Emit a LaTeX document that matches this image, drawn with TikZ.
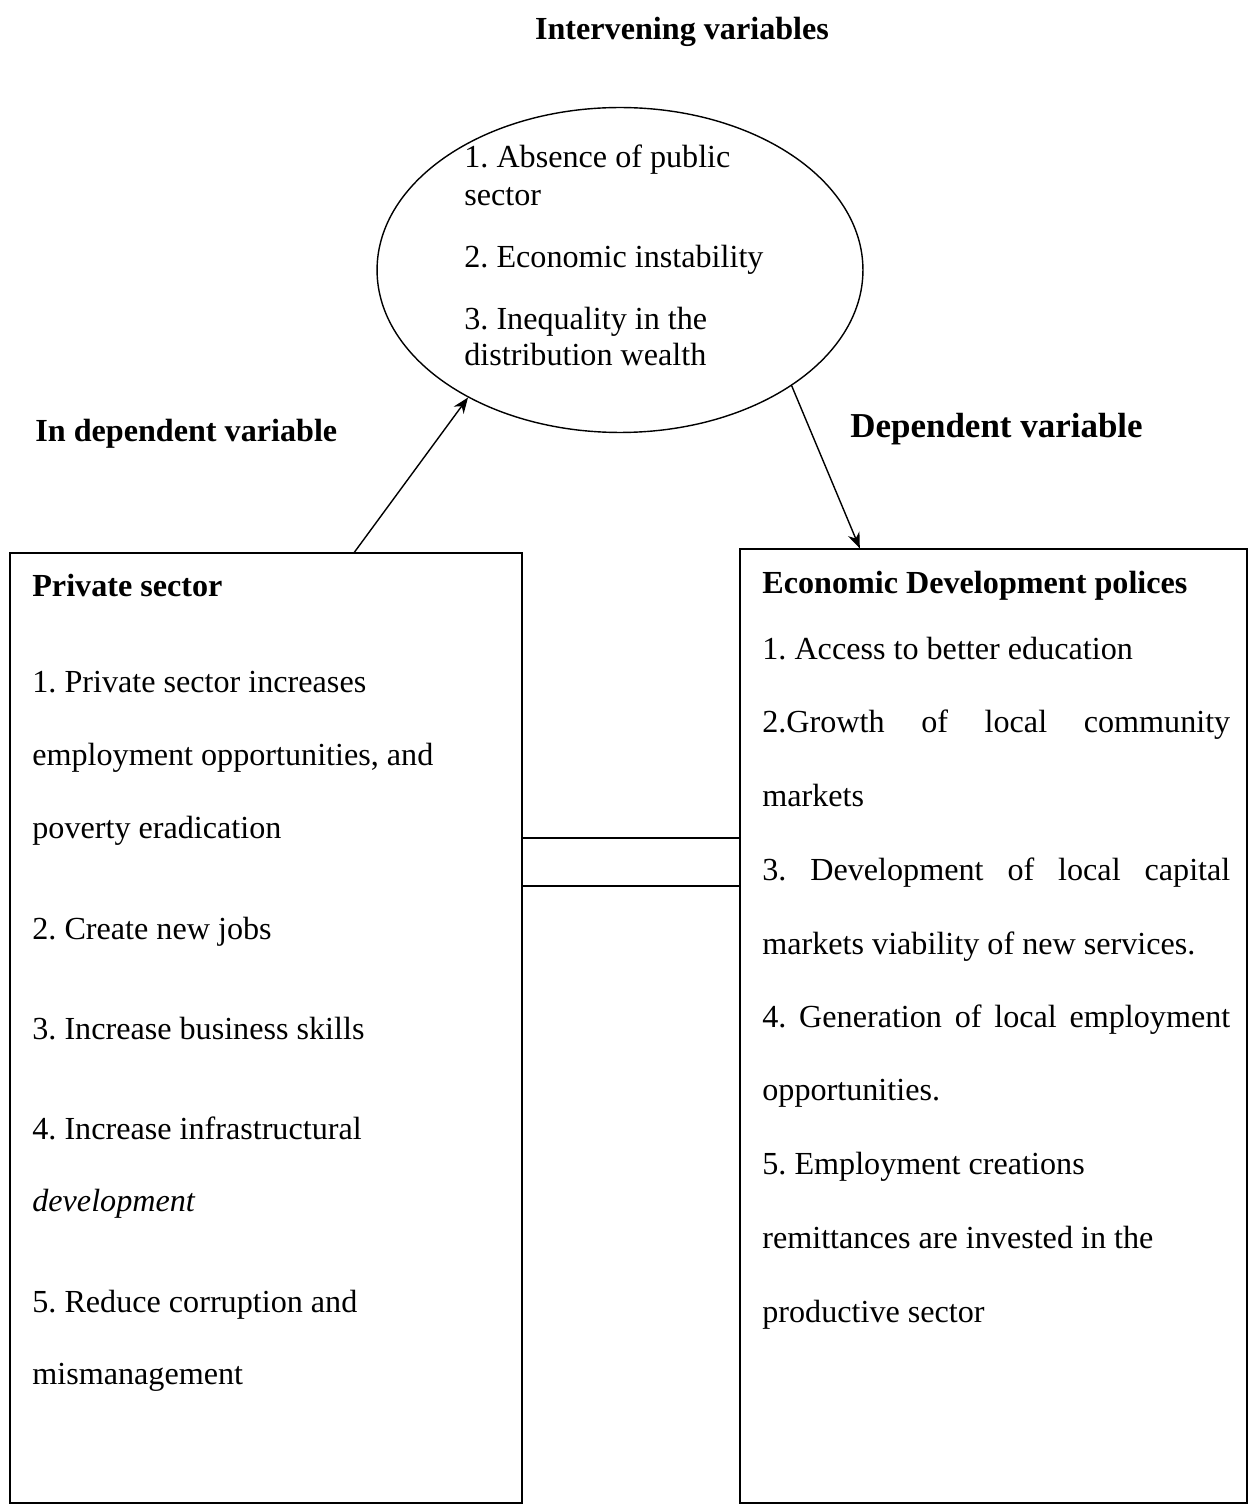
\documentclass[tikz,border=0pt]{standalone}
\usepackage{fontspec}
\setmainfont{Liberation Serif}
\usetikzlibrary{shapes.geometric,calc,arrows.meta}
\frenchspacing

\begin{document}
\begin{tikzpicture}[x=0.02cm,y=-0.02cm,
		txt/.style={anchor=base west,inner sep=0pt,font=\fontsize{18.3}{22}\selectfont},
		head/.style={txt,font=\fontsize{18.3}{22}\selectfont\bfseries},
		box/.style={draw,rectangle,inner sep=0pt,thick},
		link/.style={-{Stealth[length=9pt,width=7pt]},thick}]
		\useasboundingbox (0,0) rectangle (1248,1506);
		\node[draw,ellipse,thick,minimum width=9.72cm,minimum height=6.5cm,inner sep=0pt] (intervening) at (620,270) {};
		\node[box,minimum width=10.24cm,minimum height=19cm] (private) at (266,1028) {};
		\node[box,minimum width=10.14cm,minimum height=19.08cm] (policies) at (993.5,1026) {};
		\node[head,anchor=base] (ttop) at (682,40) {Intervening variables};
		\node[head] (tleft) at (35,442) {In dependent variable};
		\node[head,font=\fontsize{19.9}{24}\selectfont\bfseries] (tright) at (850,438) {Dependent variable};
		\node[txt] (e1) at (464,168) {1. Absence of public};
		\node[txt] (e2) at (464,206) {sector};
		\node[txt] (e3) at (464,268) {2. Economic instability};
		\node[txt] (e4) at (464,330) {3. Inequality in the};
		\node[txt] (e5) at (464,366) {distribution wealth};
		\node[head] (l0) at (32,596) {Private sector};
		\node[txt] (l1) at (32,692) {1. Private sector increases};
		\node[txt] (l2) at (32,765) {employment opportunities, and};
		\node[txt] (l3) at (32,838) {poverty eradication};
		\node[txt] (l4) at (32,939) {2. Create new jobs};
		\node[txt] (l5) at (32,1039) {3. Increase business skills};
		\node[txt] (l6) at (32,1139) {4. Increase infrastructural};
		\node[txt] (l7) at (32,1211) {\textit{development}};
		\node[txt] (l8) at (32,1312) {5. Reduce corruption and};
		\node[txt] (l9) at (32,1384) {mismanagement};
		\node[head] (r0) at (762,593) {Economic Development polices};
		\node[txt] (r1) at (762,659) {1. Access to better education};
		\node[txt] (r2) at (762,732) {\makebox[9.36cm][s]{2.Growth of local community}};
		\node[txt] (r3) at (762,806) {markets};
		\node[txt] (r4) at (762,880) {\makebox[9.36cm][s]{3. Development of local capital}};
		\node[txt] (r5) at (762,954) {markets viability of new services.};
		\node[txt] (r6) at (762,1027) {\makebox[9.36cm][s]{4. Generation of local employment}};
		\node[txt] (r7) at (762,1100) {opportunities.};
		\node[txt] (r8) at (762,1174) {5. Employment creations};
		\node[txt] (r9) at (762,1248) {remittances are invested in the};
		\node[txt] (r10) at (762,1322) {productive sector};
		\draw[link] ($(private.north west)!0.672!(private.north east)$) -- (intervening.220);
		\draw[link] (intervening.326) -- ($(policies.north west)!0.237!(policies.north east)$);
		\draw[thick] (private.east |- 0,838) -- (policies.west |- 0,838);
		\draw[thick] (private.east |- 0,886) -- (policies.west |- 0,886);
	\end{tikzpicture}
\end{document}
